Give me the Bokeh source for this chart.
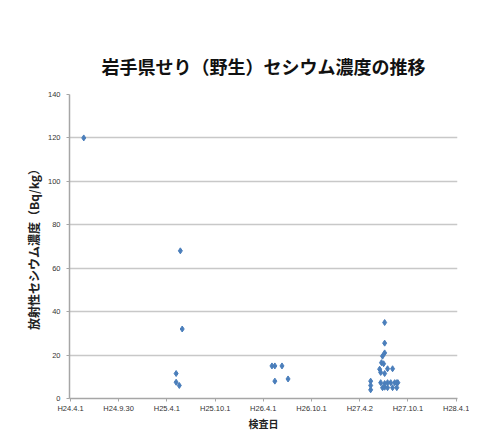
import pandas as pd
from bokeh.plotting import figure
from bokeh.models import FixedTicker, Range1d, Title
from bokeh.embed import file_html
from bokeh.resources import INLINE

# data
origin = "2012-04-01"
dates = [
    "2012-05-21",
    "2013-05-06", "2013-05-06", "2013-05-18", "2013-05-22", "2013-05-29",
    "2014-05-04", "2014-05-15", "2014-05-15", "2014-06-11", "2014-07-04",
    "2015-05-13", "2015-05-13", "2015-05-13",
    "2015-06-16", "2015-06-20", "2015-06-20", "2015-06-23", "2015-06-27", "2015-06-27",
    "2015-07-01", "2015-07-05", "2015-07-05", "2015-07-05", "2015-07-05", "2015-07-05",
    "2015-07-05", "2015-07-16", "2015-07-16", "2015-07-16", "2015-07-28", "2015-08-04",
    "2015-08-04", "2015-08-12", "2015-08-20", "2015-08-20", "2015-08-24",
]
values = [
    120,
    11.5, 7.5, 6, 68, 32,
    15, 15, 8, 15, 9,
    8, 6, 4,
    13.5, 12, 7.3, 16.5, 19.5, 5,
    16, 35, 25.5, 21, 11.5, 6.9,
    5.2, 7.3, 5, 13.7, 7.3, 13.7,
    5, 7.3, 7.3, 5, 7.3,
]
tick_dates = ["2012-04-01", "2012-09-30", "2013-04-01", "2013-10-01", "2014-04-01",
              "2014-10-01", "2015-04-02", "2015-10-01", "2016-04-01"]
tick_labels = ["H24.4.1", "H24.9.30", "H25.4.1", "H25.10.1", "H26.4.1",
               "H26.10.1", "H27.4.2", "H27.10.1", "H28.4.1"]
y_ticks = [0, 20, 40, 60, 80, 100, 120, 140]
title_text = "岩手県せり（野生）セシウム濃度の推移"

o = pd.Timestamp(origin)
xs = [(pd.Timestamp(d) - o).days for d in dates]
tx = [(pd.Timestamp(d) - o).days for d in tick_dates]

FONT = "Noto Sans CJK JP"
LATIN = "Liberation Sans"

p = figure(width=469, height=433, output_backend="svg", toolbar_location=None,
           x_range=Range1d(-4, 1466), y_range=Range1d(0, 140),
           min_border_left=69, min_border_right=12, min_border_top=94, min_border_bottom=35)
p.title = Title(text=title_text, align="center", vertical_align="top",
                text_font=FONT, text_font_size="18px", text_font_style="bold",
                text_color="#111111", standoff=28)
p.outline_line_color = None
p.background_fill_color = "white"
p.border_fill_color = "white"

p.scatter(xs, values, marker="diamond", size=6, fill_color="#4a7ebb", line_color="#4a7ebb")

p.xaxis.ticker = FixedTicker(ticks=tx)
p.xaxis.major_label_overrides = {t: l for t, l in zip(tx, tick_labels)}
p.yaxis.ticker = FixedTicker(ticks=y_ticks)

for ax in (p.xaxis, p.yaxis):
    ax.axis_line_color = "#a6a6a6"
    ax.axis_line_width = 1.5
    ax.major_tick_line_color = "#a6a6a6"
    ax.major_tick_out = 3
    ax.major_tick_in = 0
    ax.minor_tick_line_color = None
    ax.major_label_text_font = LATIN
    ax.major_label_text_font_size = "7.5px"
    ax.major_label_text_color = "#333333"
    ax.axis_label_text_font = FONT
    ax.axis_label_text_font_style = "bold"
    ax.axis_label_text_color = "#222222"

p.xaxis.axis_label = "検査日"
p.xaxis.axis_label_text_font_size = "10px"
p.xaxis.major_label_standoff = 2
p.xaxis.axis_label_standoff = 0
p.yaxis.axis_label = "放射性セシウム濃度（Bq/kg）"
p.yaxis.axis_label_text_font_size = "12px"
p.yaxis.major_label_standoff = 6
p.yaxis.axis_label_standoff = 3

p.xgrid.grid_line_color = None
p.ygrid.grid_line_color = "#c8c8c8"
p.ygrid.grid_line_width = 1.6

open("out.html", "w").write(file_html(p, INLINE))
